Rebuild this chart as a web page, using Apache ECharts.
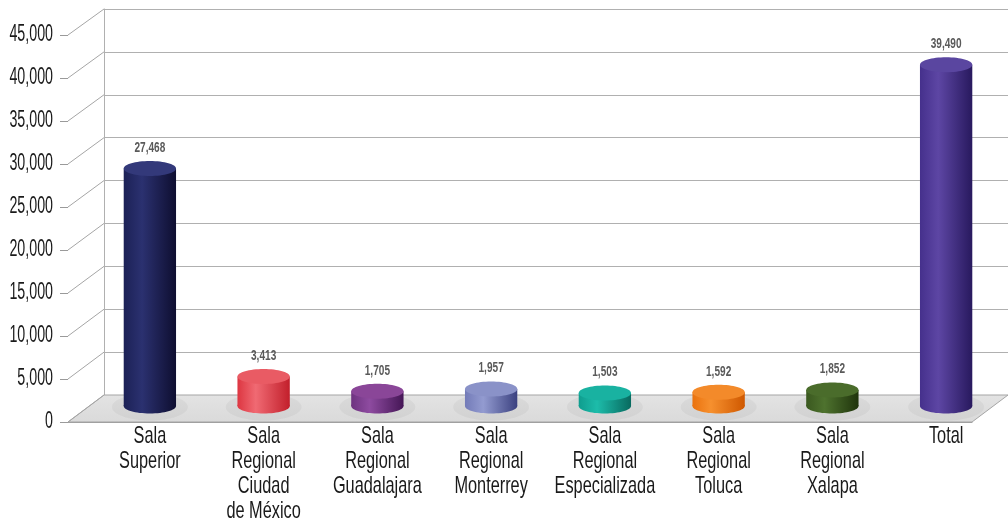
<!DOCTYPE html>
<html>
<head>
<meta charset="utf-8">
<script src="https://cdn.jsdelivr.net/npm/echarts@6/dist/echarts.min.js"></script>
<style>
html,body{margin:0;padding:0;background:#fff;}
#chart{width:1008px;height:527px;}
</style>
</head>
<body>
<div id="chart"></div>
<script>
const categories = ['Sala\nSuperior','Sala\nRegional\nCiudad\nde México','Sala\nRegional\nGuadalajara','Sala\nRegional\nMonterrey','Sala\nRegional\nEspecializada','Sala\nRegional\nToluca','Sala\nRegional\nXalapa','Total'];
const values = [27468, 3413, 1705, 1957, 1503, 1592, 1852, 39490];
const yTicks = [0, 5000, 10000, 15000, 20000, 25000, 30000, 35000, 40000, 45000];
// [left, highlight, right, top]
const palette = [
  ['#1c2156', '#2b3170', '#0e0e30', '#33397a'],
  ['#dd3641', '#f06a73', '#c21f2b', '#e95b64'],
  ['#6e3380', '#8e4ba0', '#451656', '#8a4698'],
  ['#737bb8', '#939bd0', '#3b4180', '#8a92c8'],
  ['#0f9d8e', '#1dbcaa', '#086a5f', '#19b2a1'],
  ['#ea720e', '#f6902e', '#cf5800', '#f38a2a'],
  ['#3a581f', '#4e722e', '#1f340c', '#4a6c2b'],
  ['#45308c', '#5d46a4', '#28195e', '#5a46a0']
];
const FONT = "'Liberation Sans', Arial, sans-serif";
const fmt = v => v.toLocaleString('en-US');

const chart = echarts.init(document.getElementById('chart'));
chart.setOption({
  animation: false,
  grid: [
    {left: 104, right: 0, top: 9, bottom: 132},   // back wall
    {left: 68, right: 36, top: 35, bottom: 105},  // front plane
    {left: 93, right: 5, top: 17, bottom: 121}    // bar plane
  ],
  xAxis: [
    {gridIndex: 0, type: 'value', min: 0, max: 1, show: false},
    {gridIndex: 1, type: 'value', min: 0, max: 1, axisLabel: {show: false}, axisTick: {show: false},
     splitLine: {show: false}, axisLine: {show: true, lineStyle: {color: '#9a9a9a', width: 1}}},
    {gridIndex: 2, type: 'category', data: categories, axisLine: {show: false}, axisTick: {show: false},
     axisLabel: {show: false}}
  ],
  yAxis: [
    {gridIndex: 0, type: 'value', min: 0, max: 45000, interval: 5000,
     axisLabel: {show: false}, axisTick: {show: false},
     axisLine: {show: true, lineStyle: {color: '#b0b0b0'}},
     splitLine: {show: true, lineStyle: {color: '#b0b0b0', width: 1}}},
    {gridIndex: 1, type: 'value', min: 0, max: 45000, interval: 5000,
     axisLine: {show: false}, splitLine: {show: false},
     axisTick: {show: true, length: 8, lineStyle: {color: '#9a9a9a'}},
     axisLabel: {show: false}},
    {gridIndex: 2, type: 'value', min: 0, max: 45000, interval: 5000, show: false}
  ],
  series: [{
    type: 'custom',
    xAxisIndex: 2, yAxisIndex: 2,
    z: 5,
    data: values.map((v, i) => [i, v]),
    encode: {x: 0, y: 1},
    renderItem: function (params, api) {
      const i = api.value(0), v = api.value(1);
      const top = api.coord([i, v]);
      const base = api.coord([i, 0]);
      const hw = api.size([1, 0])[0] * 0.23;
      const ry = 7.5;
      const c = palette[params.dataIndex];
      const grad = new echarts.graphic.LinearGradient(0, 0, 1, 0, [
        {offset: 0, color: c[0]}, {offset: 0.35, color: c[1]}, {offset: 1, color: c[2]}
      ]);
      return {
        type: 'group',
        children: [
          {type: 'ellipse', shape: {cx: base[0], cy: base[1] + 1, rx: hw * 1.45, ry: ry * 1.8},
           style: {fill: 'rgba(0,0,0,0.04)'}},
          {type: 'rect', shape: {x: base[0] - hw, y: top[1], width: hw * 2, height: base[1] - top[1]},
           style: {fill: grad}},
          {type: 'ellipse', shape: {cx: base[0], cy: base[1], rx: hw, ry: ry}, style: {fill: grad}},
          {type: 'ellipse', shape: {cx: top[0], cy: top[1], rx: hw, ry: ry}, style: {fill: c[3]}},
          {type: 'text', x: top[0], y: top[1] - ry - 6, scaleX: 0.72,
           style: {text: fmt(v), x: 0, y: 0, align: 'center',
            verticalAlign: 'bottom', fill: '#5a5a5a', fontSize: 14, fontWeight: 'bold', fontFamily: FONT}}
        ]
      };
    }
  }]
});

// perspective floor, tick connectors and texts, placed with the axes' own scales
const g = [];
const fl = chart.convertToPixel({xAxisIndex: 1, yAxisIndex: 1}, [0, 0]);
const fr = chart.convertToPixel({xAxisIndex: 1, yAxisIndex: 1}, [1, 0]);
const bl = chart.convertToPixel({xAxisIndex: 0, yAxisIndex: 0}, [0, 0]);
const br = chart.convertToPixel({xAxisIndex: 0, yAxisIndex: 0}, [1, 0]);
g.push({type: 'polygon', z: 1, shape: {points: [fl, fr, br, bl]},
  style: {fill: new echarts.graphic.LinearGradient(0, 0, 0, 1, [
    {offset: 0, color: '#e3e3e3'}, {offset: 1, color: '#dadada'}]), stroke: '#a5a5a5', lineWidth: 1}});
yTicks.forEach(v => {
  const f = chart.convertToPixel({xAxisIndex: 1, yAxisIndex: 1}, [0, v]);
  const b = chart.convertToPixel({xAxisIndex: 0, yAxisIndex: 0}, [0, v]);
  g.push({type: 'line', z: 1, shape: {x1: f[0], y1: f[1], x2: b[0], y2: b[1]},
    style: {stroke: '#a5a5a5', lineWidth: 1}});
  g.push({type: 'text', z: 3, x: f[0] - 15, y: f[1], scaleX: 0.62,
    style: {text: fmt(v), x: 0, y: 0, align: 'right', verticalAlign: 'middle',
      fill: '#1a1a1a', fontSize: 23, fontFamily: FONT}});
});
categories.forEach((c, i) => {
  const p = chart.convertToPixel({xAxisIndex: 2, yAxisIndex: 2}, [i, 0]);
  g.push({type: 'text', z: 3, x: p[0], y: p[1] + 18, scaleX: 0.68,
    style: {text: c, x: 0, y: 0, align: 'center', verticalAlign: 'top', lineHeight: 25,
      fill: '#1a1a1a', fontSize: 24, fontFamily: FONT}});
});
chart.setOption({graphic: g});
</script>
</body>
</html>
